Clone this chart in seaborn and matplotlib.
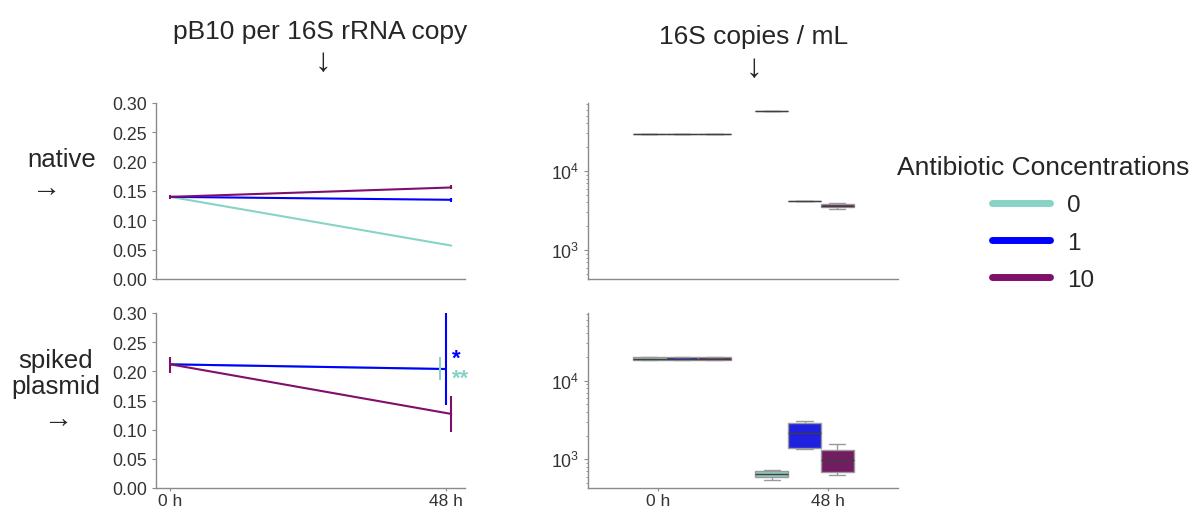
import numpy as np
import pandas as pd
import seaborn as sns
import matplotlib
matplotlib.use("Agg")
import matplotlib.pyplot as plt
from matplotlib.lines import Line2D

# ---------------- data ----------------
concs = ["0", "1", "10"]
times = ["0 h", "48 h"]
colors = ["#88d3c6", "#0000ff", "#800f6b"]

# pB10 per 16S rRNA copy (mean, low, high) per concentration, at 0 h and 48 h
native_mean = {"0": [0.140, 0.057], "1": [0.140, 0.135], "10": [0.140, 0.156]}
native_lo = {"0": [0.140, 0.057], "1": [0.140, 0.132], "10": [0.137, 0.153]}
native_hi = {"0": [0.140, 0.057], "1": [0.140, 0.138], "10": [0.144, 0.160]}

spiked_mean = {"0": [0.212, 0.204], "1": [0.212, 0.204], "10": [0.212, 0.127]}
spiked_lo = {"0": [0.212, 0.186], "1": [0.212, 0.142], "10": [0.198, 0.096]}
spiked_hi = {"0": [0.212, 0.224], "1": [0.212, 0.300], "10": [0.225, 0.157]}

# 16S copies / mL replicates (min, q1, median, q3, max)
native_copies = {
    ("0 h", "0"): [29400] * 5, ("0 h", "1"): [29400] * 5, ("0 h", "10"): [29400] * 5,
    ("48 h", "0"): [57500] * 5, ("48 h", "1"): [4210] * 5,
    ("48 h", "10"): [3310, 3470, 3620, 3790, 3985],
}
spiked_copies = {
    ("0 h", "0"): [18200, 18300, 18970, 19700, 19800],
    ("0 h", "1"): [18200, 18300, 18970, 19700, 19800],
    ("0 h", "10"): [18200, 18300, 18970, 19700, 19800],
    ("48 h", "0"): [547, 592, 652, 711, 733],
    ("48 h", "1"): [1339, 1406, 2133, 2878, 3052],
    ("48 h", "10"): [622, 684, 963, 1312, 1580],
}

# ---------------- style ----------------
sns.set_style("ticks")
plt.rcParams.update({
    "font.family": ["Liberation Sans", "DejaVu Sans"],
    "axes.edgecolor": "#8a8a8a",
    "xtick.color": "#8a8a8a",
    "ytick.color": "#8a8a8a",
    "xtick.labelcolor": "#333333",
    "ytick.labelcolor": "#333333",
    "text.color": "#262626",
    "xtick.labelsize": 12.5,
    "ytick.labelsize": 12.8,
    "xtick.major.size": 2.5,
    "ytick.major.size": 3,
    "xtick.major.pad": 1.0,
    "ytick.minor.size": 1.8,
    "axes.linewidth": 1.0,
})
palette = dict(zip(concs, colors))

fig = plt.figure(figsize=(11.94, 5.10), dpi=100)
W, H = 1194, 510

def fax(x0, x1, ytop, ybot):
    return fig.add_axes([x0 / W, 1 - ybot / H, (x1 - x0) / W, (ybot - ytop) / H])

ax_nl = fax(156, 465, 104, 280)
ax_sl = fax(156, 465, 314, 489)
ax_nr = fax(588, 898, 104, 280)
ax_sr = fax(588, 898, 314, 489)

# ---------------- left: line plots ----------------
def line_panel(ax, mean, lo, hi, end_offsets):
    rows = []
    for c in concs:
        for i, t in enumerate(times):
            pos = i + (end_offsets[c] if i == 1 else 0.0)
            rows.append(dict(pos=pos, conc=c, val=mean[c][i], lo=lo[c][i], hi=hi[c][i]))
    df = pd.DataFrame(rows)
    sns.lineplot(data=df, x="pos", y="val", hue="conc", hue_order=concs,
                 palette=palette, errorbar=None, linewidth=1.5, legend=False, ax=ax)
    for c in concs:
        d = df[df.conc == c]
        ax.vlines(d["pos"], d["lo"], d["hi"], color=palette[c], linewidth=1.5)
    ax.set_xlim(-0.052, 1.07)
    ax.set_ylim(0, 0.30)
    ax.set_yticks(np.arange(0, 0.31, 0.05))
    ax.set_yticklabels([f"{v:.2f}" for v in np.arange(0, 0.31, 0.05)])
    ax.set_xticks([0, 1])
    ax.set_xticklabels(times)
    ax.set_xlabel("")
    ax.set_ylabel("")
    sns.despine(ax=ax)

line_panel(ax_nl, native_mean, native_lo, native_hi, {"0": 0.02, "1": 0.02, "10": 0.02})
line_panel(ax_sl, spiked_mean, spiked_lo, spiked_hi, {"0": -0.02, "1": 0.0, "10": 0.02})
ax_nl.tick_params(axis="x", bottom=False, labelbottom=False)

ax_sl.text(1.021, 0.222, "*", color=colors[1], fontsize=16, fontweight="bold", va="center", ha="left")
ax_sl.text(1.021, 0.188, "**", color=colors[0], fontsize=16, fontweight="bold", va="center", ha="left")

# ---------------- right: box plots ----------------
def box_panel(ax, copies):
    rows = []
    for (t, c), vals in copies.items():
        for v in vals:
            rows.append(dict(time=t, conc=c, copies=v))
    df = pd.DataFrame(rows)
    sns.boxplot(data=df, x="time", y="copies", hue="conc", order=times, hue_order=concs,
                palette=palette, log_scale=True, showfliers=False, linewidth=1.0,
                linecolor="#9a9a9a", medianprops=dict(color="#404040"),
                legend=False, ax=ax)
    ax.set_ylim(10 ** 2.633, 10 ** 4.861)
    ax.set_xlim(-0.767, 1.763)
    ax.set_xticks([-0.196, 1.194])
    ax.set_xticklabels(times)
    ax.set_xlabel("")
    ax.set_ylabel("")
    sns.despine(ax=ax)

box_panel(ax_nr, native_copies)
box_panel(ax_sr, spiked_copies)
ax_nr.tick_params(axis="x", bottom=False, labelbottom=False)

# ---------------- annotations ----------------
fig.text(320 / W, 1 - 32 / H, "pB10 per 16S rRNA copy", ha="center", va="center", fontsize=19)
fig.text(323 / W, 1 - 62 / H, "↓", ha="center", va="center", fontsize=24)
fig.text(754 / W, 1 - 37 / H, "16S copies / mL", ha="center", va="center", fontsize=19)
fig.text(754 / W, 1 - 69 / H, "↓", ha="center", va="center", fontsize=24)

fig.text(62 / W, 1 - 160 / H, "native", ha="center", va="center", fontsize=18.5)
fig.text(47 / W, 1 - 188 / H, "→", ha="center", va="center", fontsize=21)
fig.text(56 / W, 1 - 374 / H, "spiked\nplasmid", ha="center", va="center", fontsize=18.5,
         linespacing=1.08)
fig.text(59 / W, 1 - 419 / H, "→", ha="center", va="center", fontsize=21)

handles = [Line2D([], [], color=palette[c], linewidth=5, solid_capstyle="round") for c in concs]
leg = fig.legend(handles, concs, title="Antibiotic Concentrations", loc="center",
                 bbox_to_anchor=(1043 / W, 1 - 224 / H), frameon=False, fontsize=17.5,
                 title_fontsize=19, handlelength=2.4, labelspacing=0.62, handletextpad=0.7)

fig.savefig("out.png", dpi=100)
